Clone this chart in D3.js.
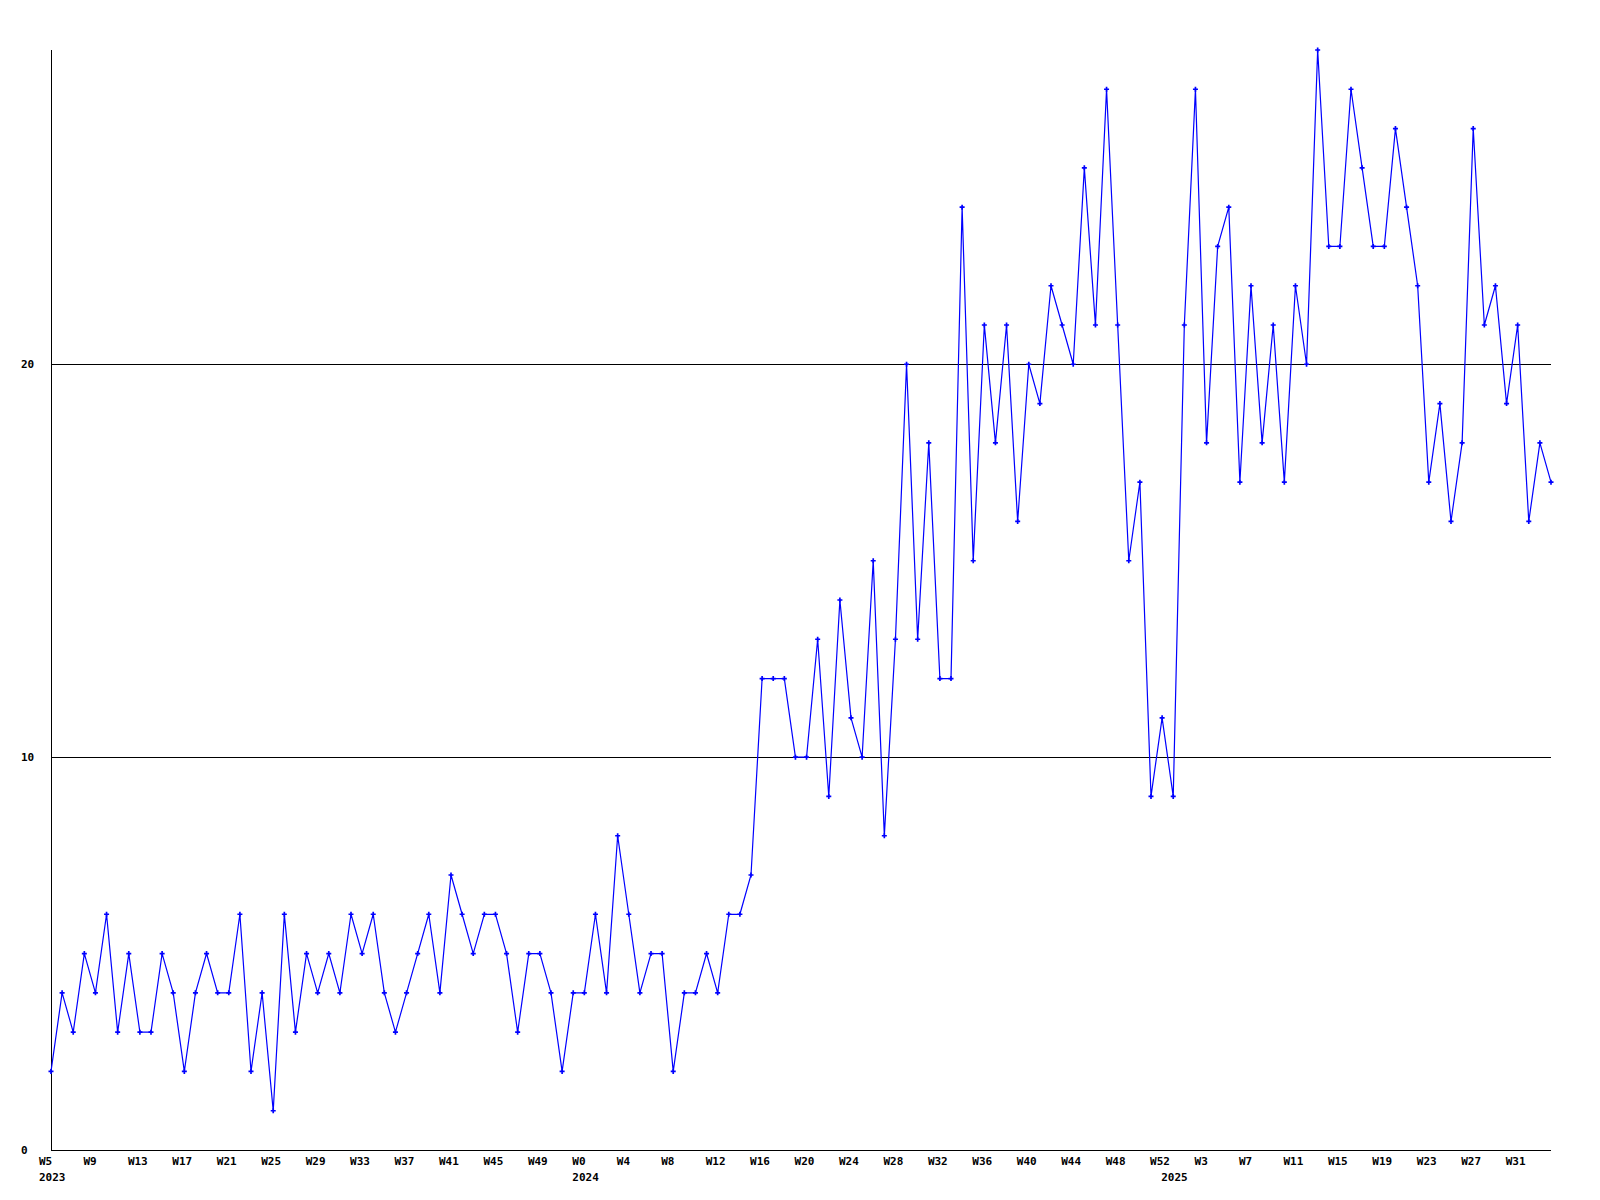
<!DOCTYPE html>
<html>
<head>
<meta charset="utf-8">
<script src="https://cdn.jsdelivr.net/npm/d3@7"></script>
<style>
  html, body { margin: 0; padding: 0; background: #fff; }
  svg { display: block; }
  text { font-family: "DejaVu Sans Mono", "Liberation Mono", monospace; font-weight: bold; font-size: 11px; fill: #000; }
</style>
</head>
<body>
<script>
// ---- data ----
// weekly points: 2023 W5..W52, 2024 W0..W52, 2025 W0..W34
const yearSegments = [
  { year: "2023", firstWeek: 5, lastWeek: 52 },
  { year: "2024", firstWeek: 0, lastWeek: 52 },
  { year: "2025", firstWeek: 0, lastWeek: 34 }
];
const values = [
  2,4,3,5,4,6,3,5,3,3,
  5,4,2,4,5,4,4,6,2,4,
  1,6,3,5,4,5,4,6,5,6,
  4,3,4,5,6,4,7,6,5,6,
  6,5,3,5,5,4,2,4,4,6,
  4,8,6,4,5,5,2,4,4,5,
  4,6,6,7,12,12,12,10,10,13,
  9,14,11,10,15,8,13,20,13,18,
  12,12,24,15,21,18,21,16,20,19,
  22,21,20,25,21,27,21,15,17,9,
  11,9,21,27,18,23,24,17,22,18,
  21,17,22,20,28,23,23,27,25,23,
  23,26,24,22,17,19,16,18,26,21,
  22,19,21,16,18,17
];
const yTickValues = [0, 10, 20];
const yGridValues = [10, 20];
const yMax = 28;
const weekTickEvery = 4;

// categories built from the segments
const categories = [];
yearSegments.forEach(s => {
  for (let w = s.firstWeek; w <= s.lastWeek; w++) {
    categories.push({ year: s.year, week: "W" + w, first: w === s.firstWeek });
  }
});
const points = values.map((v, i) => ({ i, v, cat: categories[i] }));

// ---- layout ----
const W = 1600, H = 1200;
const mLeft = 51, mRight = 1551, mTop = 50, mBottom = 1150;

const svg = d3.select("body").append("svg").attr("width", W).attr("height", H);
svg.append("rect").attr("width", W).attr("height", H).attr("fill", "#fff");

const x = d3.scaleLinear().domain([0, values.length - 1]).range([mLeft, mRight]);
const y = d3.scaleLinear().domain([0, yMax]).range([mBottom, mTop]);

// grid lines
svg.append("g").selectAll("line").data(yGridValues).join("line")
  .attr("x1", mLeft).attr("x2", mRight)
  .attr("y1", d => Math.round(y(d)) + 0.5).attr("y2", d => Math.round(y(d)) + 0.5)
  .attr("stroke", "#000").attr("stroke-width", 1).attr("shape-rendering", "crispEdges");

// axes lines
svg.append("line").attr("x1", mLeft + 0.5).attr("x2", mLeft + 0.5).attr("y1", mTop).attr("y2", mBottom + 0.5)
  .attr("stroke", "#000").attr("shape-rendering", "crispEdges");
svg.append("line").attr("x1", mLeft).attr("x2", mRight).attr("y1", mBottom + 0.5).attr("y2", mBottom + 0.5)
  .attr("stroke", "#000").attr("shape-rendering", "crispEdges");

// y labels
svg.append("g").selectAll("text").data(yTickValues).join("text")
  .attr("x", 21).attr("y", d => y(d) + 4)
  .text(d => d);

// x week labels
const tickPts = points.filter(p => p.i % weekTickEvery === 0);
svg.append("g").selectAll("text").data(tickPts).join("text")
  .attr("x", p => x(p.i) - 12).attr("y", mBottom + 15)
  .text(p => p.cat.week);

// year labels
const yearPts = points.filter(p => p.cat.first);
svg.append("g").selectAll("text").data(yearPts).join("text")
  .attr("x", p => x(p.i) - 12).attr("y", mBottom + 31)
  .text(p => p.cat.year);

// line
const line = d3.line().x(p => x(p.i)).y(p => y(p.v));
svg.append("path").datum(points).attr("d", line)
  .attr("fill", "none").attr("stroke", "#0000ff").attr("stroke-width", 1.2);

// markers
const sym = d3.symbol().type(d3.symbolCross).size(14);
svg.append("g").selectAll("path").data(points).join("path")
  .attr("transform", p => `translate(${x(p.i)},${y(p.v)})`)
  .attr("d", sym).attr("fill", "#0000ff");
</script>
</body>
</html>
